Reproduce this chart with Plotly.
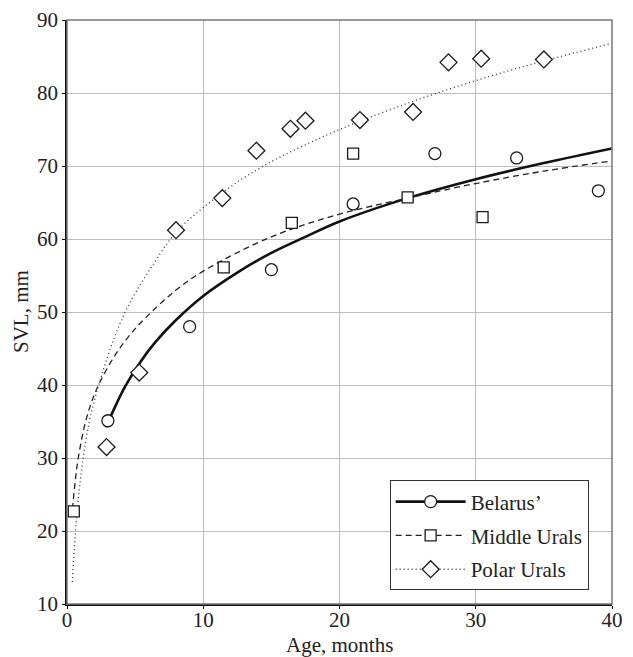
import plotly.graph_objects as go

# Observed data points
bel_age = [3, 9, 15, 21, 27, 33, 39]
bel_svl = [35.1, 48.0, 55.8, 64.8, 71.7, 71.1, 66.6]
mid_age = [0.5, 11.5, 16.5, 21, 25, 30.5]
mid_svl = [22.7, 56.1, 62.2, 71.7, 65.7, 63.0]
pol_age = [2.9, 5.3, 8, 11.4, 13.9, 16.4, 17.5, 21.5, 25.4, 28, 30.4, 35]
pol_svl = [31.5, 41.7, 61.2, 65.6, 72.1, 75.1, 76.2, 76.3, 77.4, 84.2, 84.7, 84.6]

# Fitted growth curves
bel_fit_age = [2.85, 3.5, 4.3, 5.4, 6.5, 8, 10, 12.5, 15, 17.5, 20, 25, 30, 35, 40]
bel_fit_svl = [34.2, 36.9, 39.9, 43.2, 45.9, 48.9, 52.2, 55.4, 58.1, 60.3, 62.4, 65.6, 68.2, 70.4, 72.4]
mid_fit_age = [0.4, 0.6, 0.81, 1.3, 1.79, 2.39, 3.5, 4.5, 5.82, 8, 10, 15, 20, 25, 30, 35, 40]
mid_fit_svl = [23.0, 26.8, 29.8, 34.5, 37.6, 40.3, 44.0, 46.6, 49.3, 53.0, 55.6, 60.3, 63.4, 65.6, 67.6, 69.3, 70.7]
pol_fit_age = [0.39, 0.5, 0.64, 0.9, 1.18, 1.6, 2.03, 2.52, 3.3, 4.35, 6, 8, 10, 12.5, 15, 17.5, 20, 25, 30, 35, 40]
pol_fit_svl = [13.0, 16.6, 20.3, 25.6, 30.0, 34.6, 38.0, 41.2, 45.6, 50.3, 55.6, 60.9, 64.3, 67.8, 70.6, 72.9, 75.0, 78.6, 81.7, 84.4, 86.8]

series_names = ["Belarus’", "Middle Urals", "Polar Urals"]
x_ticks = [0, 10, 20, 30, 40]
y_ticks = [10, 20, 30, 40, 50, 60, 70, 80, 90]
x_title = "Age, months"
y_title = "SVL, mm"

FONT = "Liberation Serif"
TXT = "#222"
MK_LINE = dict(color="#1a1a1a", width=1.3)

styles = [
    dict(line=dict(color="#111", width=2.6, dash="solid", shape="spline"),
         marker=dict(symbol="circle", size=12, color="white", line=MK_LINE)),
    dict(line=dict(color="#222", width=1.3, dash="6px,4px", shape="spline"),
         marker=dict(symbol="square", size=11, color="white", line=MK_LINE)),
    dict(line=dict(color="#333", width=1.3, dash="1px,3px", shape="spline"),
         marker=dict(symbol="diamond", size=13, color="white", line=MK_LINE)),
]

fits = [(bel_fit_age, bel_fit_svl), (mid_fit_age, mid_fit_svl), (pol_fit_age, pol_fit_svl)]
pts = [(bel_age, bel_svl), (mid_age, mid_svl), (pol_age, pol_svl)]

fig = go.Figure()
for i, name in enumerate(series_names):
    fx, fy = fits[i]
    fig.add_trace(go.Scatter(x=fx, y=fy, mode="lines", line=styles[i]["line"],
                             showlegend=False, hoverinfo="skip", legendgroup=name))
for i, name in enumerate(series_names):
    px_, py_ = pts[i]
    fig.add_trace(go.Scatter(x=px_, y=py_, mode="markers", marker=styles[i]["marker"],
                             showlegend=False, name=name, legendgroup=name))
for i, name in enumerate(series_names):
    fig.add_trace(go.Scatter(x=[None], y=[None], mode="lines+markers", name=name,
                             line=styles[i]["line"], marker=styles[i]["marker"],
                             legendgroup=name))

axis_common = dict(
    showgrid=True, gridcolor="#bdbdbd", gridwidth=1.2,
    showline=True, linecolor="#111", linewidth=1.5,
    ticks="outside", ticklen=3, tickcolor="#111",
    tickfont=dict(family=FONT, size=21, color=TXT),
    zeroline=False, automargin=False,
)

fig.update_layout(
    width=633, height=657,
    margin=dict(l=67, r=21, t=20, b=53),
    paper_bgcolor="white", plot_bgcolor="white",
    font=dict(family=FONT, size=21, color=TXT),
    xaxis=dict(range=[0, 40], tickvals=x_ticks, ticklabelstandoff=-7, **axis_common),
    yaxis=dict(range=[10, 90], tickvals=y_ticks, **axis_common),
    legend=dict(x=0.592, y=0.2115, xanchor="left", yanchor="top",
                bgcolor="white", bordercolor="#333", borderwidth=1,
                font=dict(family=FONT, size=21, color=TXT),
                itemwidth=70, tracegroupgap=3.5,
                entrywidth=200, entrywidthmode="pixels"),
    shapes=[dict(type="rect", xref="paper", yref="paper", x0=0, x1=1, y0=0, y1=1,
                 line=dict(color="#777", width=1.5), layer="above")],
    annotations=[
        dict(text=x_title, xref="paper", yref="paper", x=0.5, y=0,
             xanchor="center", yanchor="middle", yshift=-41, showarrow=False,
             font=dict(family=FONT, size=21, color=TXT)),
        dict(text=y_title, xref="paper", yref="paper", x=0, y=0.5, textangle=-90,
             xanchor="center", yanchor="middle", xshift=-46, showarrow=False,
             font=dict(family=FONT, size=21, color=TXT)),
    ],
)

fig.write_html("out.html")
